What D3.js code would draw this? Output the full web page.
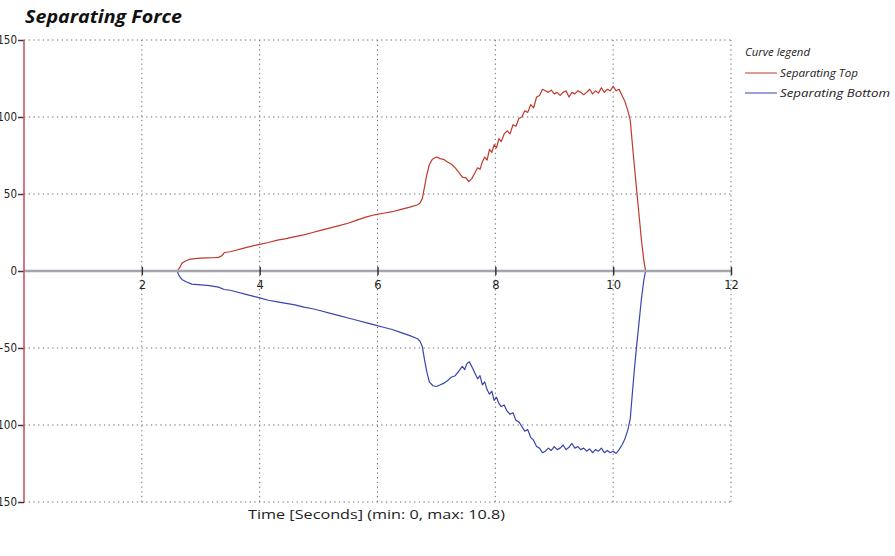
<!DOCTYPE html>
<html><head><meta charset="utf-8">
<script src="https://cdn.jsdelivr.net/npm/d3@7/dist/d3.min.js"></script>
<style>body{margin:0;background:#fff;}svg{display:block;}</style>
</head><body>
<svg id="c" width="895" height="556"></svg>
<script>
const title = "Separating Force";
const xLabel = "Time [Seconds] (min: 0, max: 10.8)";
const legendTitle = "Curve legend";
const seriesNames = ["Separating Top", "Separating Bottom"];
const xTicks = [2, 4, 6, 8, 10, 12];
const yTicks = [-150, -100, -50, 0, 50, 100, 150];

const topTime = [0,2.60,2.64,2.68,2.74,2.80,2.90,3.00,3.10,3.20,3.30,3.36,3.40,3.50,3.60,3.70,3.80,3.90,4.00,4.15,4.30,4.45,4.60,4.75,4.90,5.05,5.20,5.35,5.50,5.65,5.80,5.95,6.10,6.25,6.40,6.55,6.68,6.72,6.76,6.80,6.84,6.88,6.93,7.00,7.06,7.12,7.18,7.25,7.32,7.38,7.44,7.50,7.55,7.60,7.65,7.70,7.74,7.78,7.82,7.86,7.90,7.94,7.98,8.02,8.06,8.10,8.15,8.20,8.25,8.30,8.35,8.40,8.45,8.50,8.55,8.60,8.65,8.70,8.75,8.80,8.85,8.90,8.95,9.00,9.05,9.10,9.15,9.20,9.25,9.30,9.35,9.40,9.45,9.50,9.55,9.60,9.65,9.70,9.75,9.80,9.85,9.90,9.95,10.00,10.05,10.10,10.15,10.20,10.25,10.29,10.32,10.36,10.40,10.44,10.48,10.52,10.55,10.8];
const topForce = [0,0,2,5,6.5,7.5,8,8.3,8.5,8.6,8.8,10,12,12.5,13.5,14.5,15.5,16.5,17.3,18.5,20,21,22.3,23.5,25,26.5,28,29.5,31,33,35,36.5,37.5,38.5,40,41.5,43,44,47,55,63,69,72.5,74,73,72.5,71,69.5,67,64,61,60.5,58,60,63.5,67,66,71,74,72,79,77,82,80,86,84,89,91,89,95,94,99,100,104,103,108,106,113,114,118,117,116,117.5,115,116,114,116,117,113,116,115,117,116,114.5,116,118,115,117,115.5,119,116,118,117,120,117,118,114,110,104,98,85,68,52,36,20,7,0,0];

const bottomTime = [0,2.60,2.63,2.68,2.75,2.85,3.00,3.15,3.30,3.40,3.50,3.60,3.75,3.90,4.00,4.15,4.30,4.45,4.60,4.75,4.90,5.05,5.20,5.35,5.50,5.65,5.80,5.95,6.10,6.25,6.40,6.55,6.68,6.72,6.76,6.80,6.84,6.88,6.94,7.00,7.06,7.12,7.18,7.25,7.32,7.38,7.44,7.48,7.52,7.56,7.60,7.65,7.70,7.74,7.78,7.82,7.86,7.90,7.94,7.98,8.02,8.06,8.10,8.15,8.20,8.25,8.30,8.35,8.40,8.45,8.50,8.55,8.60,8.65,8.70,8.75,8.80,8.85,8.90,8.95,9.00,9.05,9.10,9.15,9.20,9.25,9.30,9.35,9.40,9.45,9.50,9.55,9.60,9.65,9.70,9.75,9.80,9.85,9.90,9.95,10.00,10.05,10.10,10.15,10.20,10.25,10.29,10.32,10.36,10.40,10.44,10.48,10.52,10.55,10.8];
const bottomForce = [0,0,-3,-5.5,-7,-8.5,-9,-9.5,-10.5,-12,-12.5,-13.5,-15,-16.5,-17.5,-19,-20,-21,-22,-23.5,-24.5,-26,-27.5,-29,-30.5,-32,-33.5,-35,-36.5,-38,-40,-42,-44,-45.5,-49,-58,-66,-72,-74.5,-75,-74,-73,-71.5,-69,-68,-65,-62,-64,-60,-59,-62,-66,-70,-68,-74,-72,-77,-80,-78,-84,-82,-86,-88,-87,-91,-93,-92,-97,-98,-101,-104,-103,-108,-110,-114,-115,-118,-117,-115,-116.5,-114,-116,-115,-113,-116,-114.5,-112,-115,-114,-116,-115,-117,-115.5,-118,-116,-117,-115,-118,-116.5,-118,-117,-118.5,-116,-113,-109,-103,-96,-82,-64,-48,-33,-18,-6,0,0];

const colors = ["#c0392b", "#3546b0"];

const svg = d3.select("#c");
const x = d3.scaleLinear().domain([0, 12]).range([24, 731]);
const y = d3.scaleLinear().domain([-150, 150]).range([502, 40]);

// grid
const grid = svg.append("g").attr("stroke", "#6a6a6a").attr("stroke-width", 1).attr("stroke-dasharray", "1.3,3.4");
grid.selectAll("line.v").data(xTicks).join("line")
  .attr("x1", d => x(d)).attr("x2", d => x(d)).attr("y1", y(150)).attr("y2", y(-150));
grid.selectAll("line.h").data(yTicks.filter(d => d !== 0)).join("line")
  .attr("x1", x(0)).attr("x2", x(12)).attr("y1", d => y(d)).attr("y2", d => y(d));

// curves
const line = d3.line().x(d => x(d[0])).y(d => y(d[1]));
const series = [
  d3.zip(topTime, topForce),
  d3.zip(bottomTime, bottomForce)
];
series.forEach((s, i) => {
  svg.append("path").datum(s).attr("d", line).attr("fill", "none")
    .attr("stroke", colors[i]).attr("stroke-width", 1.2).attr("stroke-linejoin", "round");
});

// zero x-axis line (drawn over curves, as in the reference)
svg.append("line").attr("x1", x(0)).attr("x2", x(12)).attr("y1", y(0)).attr("y2", y(0))
  .attr("stroke", "#a4a4ac").attr("stroke-width", 2.5);

// x axis ticks & labels
const xa = svg.append("g").attr("transform", `translate(0,${y(0)})`)
  .call(d3.axisBottom(x).tickValues(xTicks).tickSize(4).tickPadding(6));
xa.select(".domain").remove();
xa.selectAll(".tick line").attr("stroke", "#333").attr("stroke-width", 1.5).attr("y1", -4).attr("y2", 4);
xa.selectAll(".tick text").attr("font-family", "DejaVu Sans").attr("font-size", 11.5).attr("fill", "#222");

// y axis
const ya = svg.append("g").attr("transform", `translate(${x(0)},0)`)
  .call(d3.axisLeft(y).tickValues(yTicks).tickSize(6).tickPadding(1));
ya.select(".domain").remove();
ya.selectAll(".tick line").attr("stroke", "#5a2a30").attr("stroke-width", 1.5);
ya.selectAll(".tick text").attr("font-family", "DejaVu Sans Condensed, DejaVu Sans").attr("font-size", 11.5).attr("fill", "#222");
svg.append("line").attr("x1", x(0)).attr("x2", x(0)).attr("y1", y(150)).attr("y2", y(-150))
  .attr("stroke", "#c25868").attr("stroke-width", 1.6);

// title
svg.append("text").attr("x", 25).attr("y", 23).text(title)
  .attr("font-family", "Open Sans").attr("font-weight", "bold").attr("font-style", "italic")
  .attr("font-size", 17.5).attr("textLength", 157).attr("lengthAdjust", "spacingAndGlyphs").attr("fill", "#111");

// legend
const lg = svg.append("g").attr("font-family", "Open Sans").attr("font-style", "italic").attr("font-size", 11.5).attr("fill", "#222");
lg.append("text").attr("x", 745).attr("y", 56).text(legendTitle)
  .attr("textLength", 65).attr("lengthAdjust", "spacingAndGlyphs");
const legendWidths = [78, 110];
seriesNames.forEach((n, i) => {
  const yy = 73 + i * 20;
  lg.append("line").attr("x1", 745).attr("x2", 777).attr("y1", yy).attr("y2", yy)
    .attr("stroke", colors[i]).attr("stroke-width", 1);
  lg.append("text").attr("x", 780).attr("y", yy + 4).text(n)
    .attr("textLength", legendWidths[i]).attr("lengthAdjust", "spacingAndGlyphs");
});

// x label
svg.append("text").attr("x", 248).attr("y", 519).text(xLabel)
  .attr("font-family", "Open Sans").attr("font-size", 13.5).attr("textLength", 257).attr("lengthAdjust", "spacingAndGlyphs").attr("fill", "#222");
</script>
</body></html>
